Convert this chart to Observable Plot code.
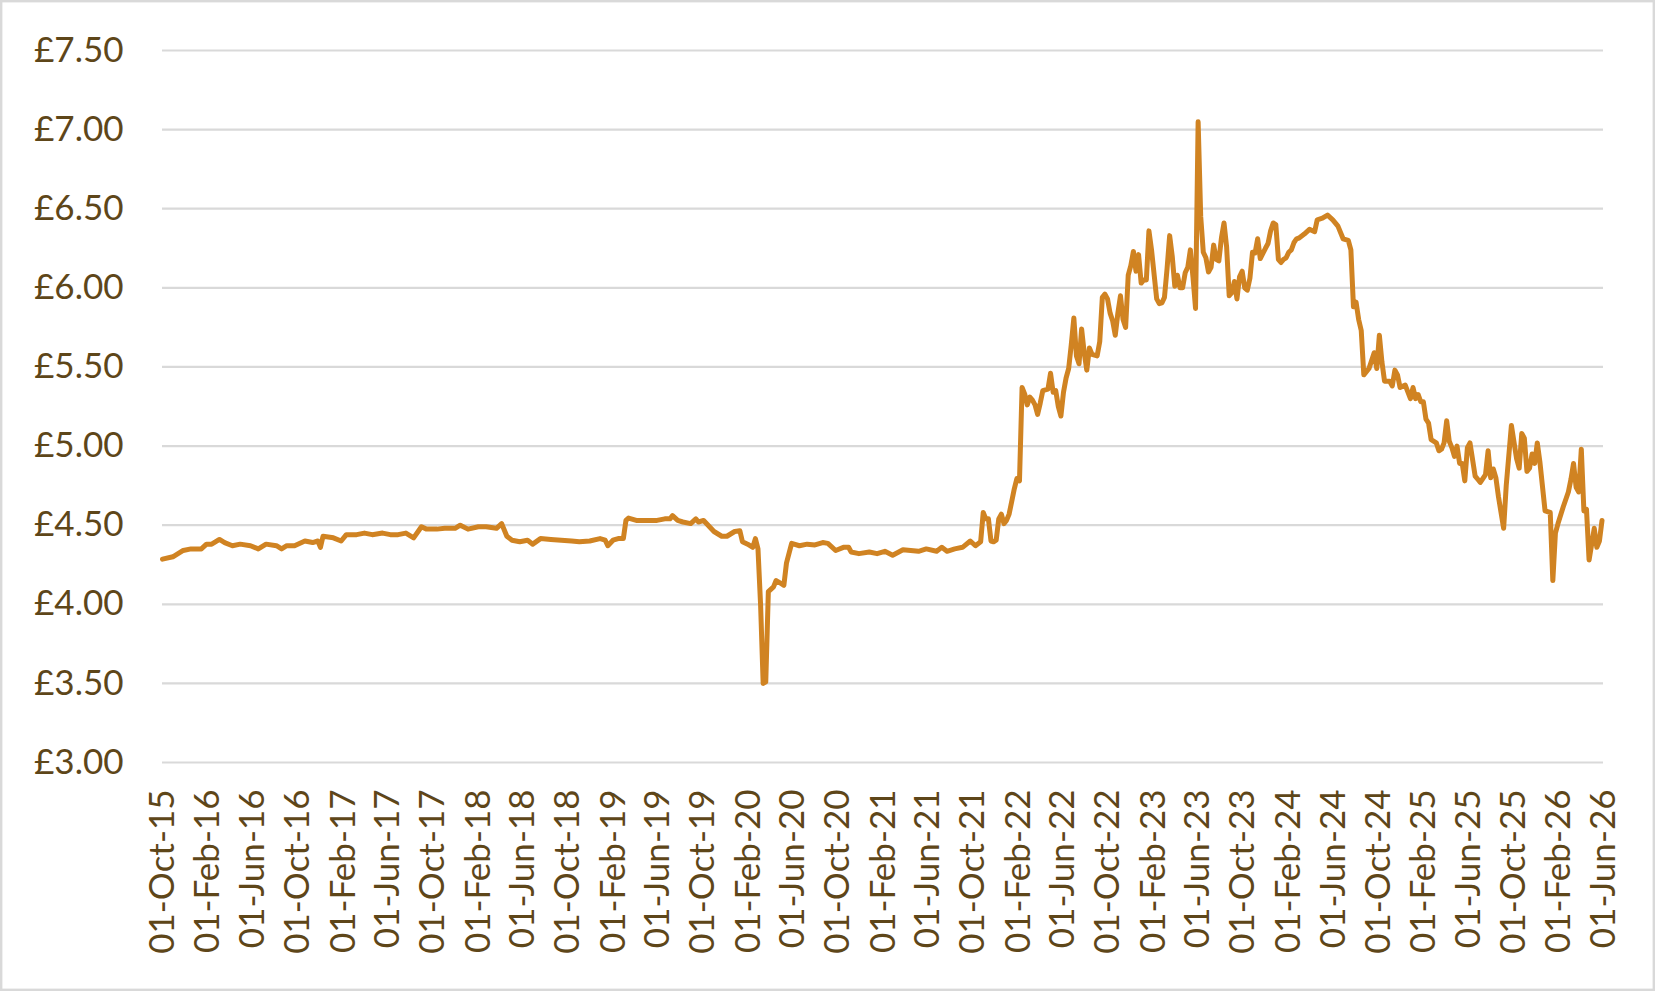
<!DOCTYPE html>
<html>
<head>
<meta charset="utf-8">
<script src="https://cdn.jsdelivr.net/npm/d3@7"></script>
<script src="https://cdn.jsdelivr.net/npm/@observablehq/plot@0.6"></script>
<style>
  html, body { margin: 0; padding: 0; background: #ffffff; }
  #chart { width: 1655px; height: 991px; }
</style>
</head>
<body>
<div id="chart"></div>
<script>
// ---- Data (weekly series; week index counted from the start date) ----
const startDate = "2015-10-01";

const weeks = [
  0, 4, 8, 11, 15, 17, 19, 22, 24, 27, 30, 34, 37, 40, 44, 46, 48, 51, 55, 58,
  60, 61, 62, 66, 69, 71, 75, 78, 81, 85, 88, 91, 94, 97, 100, 102, 106, 109, 111, 113,
  115, 118, 122, 125, 129, 131, 133, 135, 138, 141, 143, 146, 150, 154, 158, 161, 165, 169, 171, 172,
  174, 176, 178, 179, 180, 183, 187, 191, 194, 196, 197, 199, 201, 204, 206, 207, 209, 213, 216, 218,
  221, 223, 224, 226, 228, 229, 230, 231, 232, 233, 234, 236, 237, 239, 240, 241, 243, 246, 249, 252,
  255, 257, 260, 263, 265, 266, 269, 273, 276, 279, 282, 286, 289, 292, 295, 299, 301, 303, 306, 309,
  312, 314, 316, 317, 318, 319, 320, 321, 322, 323, 324, 325, 326, 327, 328, 329, 330, 331, 332, 333,
  334, 335, 336, 337, 338, 339, 340, 342, 343, 344, 345, 346, 347, 348, 349, 350, 351, 352, 353, 354,
  355, 356, 357, 358, 359, 361, 362, 363, 364, 365, 366, 367, 368, 369, 370, 371, 372, 373, 374, 375,
  376, 377, 378, 379, 380, 381, 382, 384, 385, 386, 387, 388, 389, 390, 391, 392, 393, 394, 395, 396,
  397, 398, 399, 400, 401, 402, 403, 404, 405, 406, 407, 408, 409, 410, 411, 412, 413, 414, 415, 416,
  417, 418, 419, 420, 421, 422, 423, 424, 426, 427, 428, 429, 430, 431, 432, 433, 434, 435, 436, 437,
  438, 439, 441, 443, 445, 446, 448, 450, 452, 454, 456, 458, 459, 460, 461, 462, 463, 464, 466, 468,
  469, 470, 471, 472, 474, 475, 476, 477, 478, 480, 482, 483, 484, 485, 486, 487, 488, 489, 490, 492,
  493, 494, 495, 496, 497, 498, 499, 500, 501, 502, 503, 504, 505, 507, 508, 509, 511, 512, 513, 514,
  515, 516, 518, 519, 521, 523, 524, 525, 526, 527, 528, 529, 530, 531, 532, 534, 536, 537, 538, 539,
  541, 543, 544, 545, 546, 547, 548, 549, 550, 551, 553, 554, 555, 556
];

const prices = [
  4.285, 4.30, 4.34, 4.35, 4.35, 4.38, 4.38, 4.41, 4.39, 4.37, 4.38, 4.37, 4.35, 4.38, 4.37, 4.35, 4.37, 4.37, 4.40, 4.39,
  4.40, 4.36, 4.43, 4.42, 4.40, 4.44, 4.44, 4.45, 4.44, 4.45, 4.44, 4.44, 4.45, 4.42, 4.49, 4.475, 4.475, 4.48, 4.48, 4.48,
  4.50, 4.475, 4.49, 4.49, 4.48, 4.51, 4.43, 4.405, 4.395, 4.405, 4.38, 4.415, 4.41, 4.405, 4.40, 4.395, 4.40, 4.415, 4.405, 4.37,
  4.405, 4.415, 4.415, 4.53, 4.545, 4.53, 4.53, 4.53, 4.54, 4.54, 4.56, 4.53, 4.52, 4.51, 4.54, 4.52, 4.53, 4.46, 4.43, 4.43,
  4.46, 4.465, 4.395, 4.38, 4.36, 4.415, 4.35, 4.00, 3.50, 3.51, 4.08, 4.11, 4.15, 4.13, 4.12, 4.26, 4.385, 4.37, 4.38, 4.375,
  4.39, 4.385, 4.34, 4.36, 4.36, 4.33, 4.32, 4.33, 4.32, 4.335, 4.31, 4.345, 4.34, 4.335, 4.35, 4.335, 4.36, 4.335, 4.35, 4.36,
  4.40, 4.37, 4.395, 4.58, 4.54, 4.54, 4.40, 4.395, 4.405, 4.54, 4.57, 4.51, 4.53, 4.57, 4.65, 4.73, 4.795, 4.78, 5.37, 5.33,
  5.26, 5.31, 5.29, 5.26, 5.20, 5.27, 5.35, 5.36, 5.46, 5.34, 5.35, 5.25, 5.19, 5.34, 5.43, 5.49, 5.64, 5.81, 5.57, 5.52,
  5.74, 5.59, 5.48, 5.62, 5.58, 5.57, 5.66, 5.94, 5.96, 5.93, 5.84, 5.79, 5.70, 5.84, 5.95, 5.80, 5.75, 6.08, 6.14, 6.23,
  6.105, 6.21, 6.03, 6.05, 6.05, 6.36, 6.24, 5.93, 5.90, 5.905, 5.94, 6.12, 6.33, 6.20, 6.01, 6.08, 6.00, 6.00, 6.095, 6.13,
  6.24, 6.07, 5.87, 7.05, 6.45, 6.225, 6.19, 6.10, 6.13, 6.27, 6.18, 6.17, 6.315, 6.41, 6.26, 5.95, 5.97, 6.04, 5.93, 6.07,
  6.105, 6.00, 5.985, 6.06, 6.225, 6.22, 6.31, 6.185, 6.25, 6.28, 6.36, 6.41, 6.40, 6.18, 6.16, 6.18, 6.19, 6.225, 6.24, 6.285,
  6.31, 6.315, 6.34, 6.37, 6.355, 6.43, 6.44, 6.46, 6.43, 6.39, 6.31, 6.30, 6.24, 5.88, 5.91, 5.80, 5.73, 5.45, 5.49, 5.59,
  5.49, 5.70, 5.53, 5.41, 5.41, 5.38, 5.48, 5.45, 5.37, 5.385, 5.30, 5.37, 5.30, 5.325, 5.28, 5.28, 5.17, 5.145, 5.04, 5.02,
  4.97, 4.98, 5.02, 5.16, 5.03, 4.99, 4.935, 5.00, 4.89, 4.89, 4.78, 4.99, 5.02, 4.81, 4.79, 4.77, 4.82, 4.97, 4.80, 4.855,
  4.80, 4.68, 4.48, 4.75, 5.13, 4.92, 4.86, 5.08, 5.05, 4.84, 4.86, 4.95, 4.89, 5.02, 4.90, 4.59, 4.58, 4.15, 4.45, 4.51,
  4.615, 4.71, 4.79, 4.89, 4.74, 4.71, 4.98, 4.59, 4.60, 4.28, 4.48, 4.36, 4.40, 4.53
];

const xTickLabels = [
  "01-Oct-15", "01-Feb-16", "01-Jun-16", "01-Oct-16", "01-Feb-17", "01-Jun-17",
  "01-Oct-17", "01-Feb-18", "01-Jun-18", "01-Oct-18", "01-Feb-19", "01-Jun-19",
  "01-Oct-19", "01-Feb-20", "01-Jun-20", "01-Oct-20", "01-Feb-21", "01-Jun-21",
  "01-Oct-21", "01-Feb-22", "01-Jun-22", "01-Oct-22", "01-Feb-23", "01-Jun-23",
  "01-Oct-23", "01-Feb-24", "01-Jun-24", "01-Oct-24", "01-Feb-25", "01-Jun-25",
  "01-Oct-25", "01-Feb-26", "01-Jun-26"
];

const yTicks = [3.00, 3.50, 4.00, 4.50, 5.00, 5.50, 6.00, 6.50, 7.00, 7.50];

// ---- Build table ----
const parseTick = d3.utcParse("%d-%b-%y");
const start = d3.utcParse("%Y-%m-%d")(startDate);
const data = weeks.map((w, i) => ({ date: d3.utcDay.offset(start, 7 * w), price: prices[i] }));
const xTicks = xTickLabels.map(parseTick);

const textColor = "#5e4619";
const lineColor = "#d08322";
const gridColor = "#d9d9d9";

const chart = Plot.plot({
  width: 1655,
  height: 991,
  marginLeft: 162,
  marginRight: 52,
  marginTop: 50,
  marginBottom: 229,
  style: {
    fontFamily: "Lato, 'Open Sans', sans-serif",
    fontSize: "35px",
    color: textColor,
    background: "#ffffff"
  },
  x: { type: "utc", domain: [xTicks[0], xTicks[xTicks.length - 1]], label: null },
  y: { domain: [3, 7.5], label: null },
  marks: [
    Plot.ruleY(yTicks, { stroke: gridColor, strokeWidth: 2.2 }),
    Plot.axisY(yTicks, {
      label: null,
      tickSize: 0,
      tickPadding: 39,
      tickFormat: d => "£" + d.toFixed(2),
      fill: textColor,
      fontSize: 35
    }),
    Plot.axisX(xTicks, {
      label: null,
      tickSize: 0,
      tickPadding: 27,
      tickRotate: -90,
      tickFormat: d3.utcFormat("%d-%b-%y"),
      fill: textColor,
      fontSize: 35
    }),
    Plot.lineY(data, {
      x: "date",
      y: "price",
      stroke: lineColor,
      strokeWidth: 5,
      strokeLinejoin: "round",
      strokeLinecap: "round"
    })
  ]
});

d3.select(chart).append("rect")
  .attr("x", 1.2).attr("y", 1.2)
  .attr("width", 1655 - 2.4).attr("height", 991 - 2.4)
  .attr("fill", "none")
  .attr("stroke", gridColor)
  .attr("stroke-width", 2.4);

document.getElementById("chart").appendChild(chart);
</script>
</body>
</html>
